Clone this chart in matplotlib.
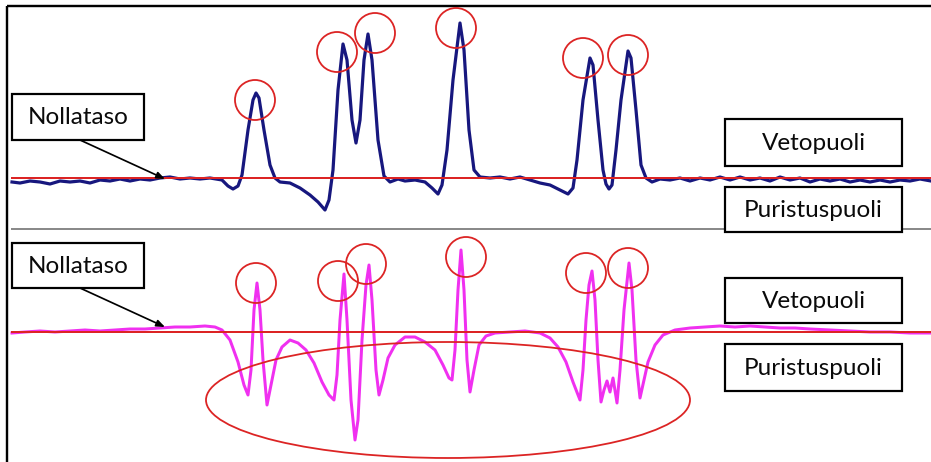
import matplotlib
matplotlib.use("Agg")
import matplotlib.pyplot as plt
from matplotlib.patches import Rectangle, Circle, Ellipse

W, H = 931, 462

# ---- data (x in samples, value = amplitude above zero level) ----
top_x = [12, 20, 30, 40, 50, 60, 70, 80, 90, 100, 110, 120, 130, 140, 150, 160, 170, 180, 190, 200,
         210, 222, 228, 233, 238, 242, 248, 253, 256, 259, 264, 270, 275, 280, 290, 300, 310, 318, 325,
         329, 333, 338, 343, 347, 352, 356, 360, 364, 368, 372, 378, 384, 390, 398, 405, 415, 425, 432,
         438, 442, 447, 453, 460, 464, 469, 474, 480, 490, 500, 510, 520, 530, 540, 550, 560, 568, 573,
         577, 583, 590, 593, 598, 603, 606, 609, 612, 616, 621, 628, 631, 636, 641, 646, 652, 660, 670,
         680, 690, 700, 710, 720, 730, 740, 750, 760, 770, 780, 790, 800, 810, 820, 830, 840, 850, 860,
         870, 880, 890, 900, 910, 920, 931]
top_v = [-4, -5, -3, -4, -6, -3, -4, -3, -5, -2, -3, -1, -3, -1, -2, 0, 1, -1, 0, -1,
         0, -2, -8, -11, -8, 3, 48, 78, 85, 80, 48, 13, 0, -4, -5, -10, -17, -24, -32,
         -22, 8, 88, 134, 118, 58, 35, 58, 118, 144, 118, 38, 2, -4, -1, -3, -2, -4, -10,
         -16, -7, 28, 98, 155, 128, 48, 8, 1, 0, 1, -1, 1, -2, -5, -7, -12, -16, -10,
         18, 78, 120, 113, 58, 8, -6, -11, -7, 28, 78, 127, 120, 68, 13, 0, -4, -1, -2,
         0, -3, 0, -2, 1, -2, 1, -2, 0, -3, 1, -2, 0, -4, -1, -3, -1, -4, -2,
         -4, -2, -4, -2, -3, -1, -3]

bot_x = [12, 25, 40, 55, 70, 85, 100, 115, 130, 145, 160, 175, 190, 205, 215, 222, 230, 238, 244, 248,
         251, 254, 257, 260, 263, 267, 271, 276, 282, 290, 298, 306, 314, 322, 329, 334, 337, 340, 344,
         347, 351, 355, 358, 362, 366, 369, 372, 376, 379, 383, 388, 395, 405, 415, 425, 435, 443, 449,
         452, 455, 458, 461, 464, 467, 470, 474, 479, 486, 495, 510, 525, 540, 550, 558, 566, 573, 580,
         583, 586, 589, 592, 595, 598, 601, 604, 607, 610, 613, 617, 620, 624, 629, 632, 636, 640, 644,
         648, 655, 663, 675, 690, 705, 720, 735, 750, 765, 780, 795, 810, 830, 850, 870, 890, 910, 931]
bot_v = [-1, 0, 1, 0, 1, 2, 1, 2, 3, 3, 4, 5, 5, 6, 5, 2, -8, -30, -53, -63,
         -38, 22, 49, 22, -28, -73, -53, -28, -15, -8, -11, -18, -31, -50, -63, -68, -43, 12, 58,
         12, -68, -108, -88, -8, 47, 67, 32, -38, -63, -48, -26, -13, -5, -5, -10, -18, -33, -46,
         -48, -18, 42, 82, 42, -28, -60, -38, -13, -4, -1, 0, 1, -1, -6, -15, -30, -50, -68,
         -38, 12, 47, 61, 32, -28, -70, -58, -49, -60, -46, -71, -38, 22, 69, 42, -28, -66, -48,
         -30, -13, -3, 2, 4, 5, 6, 5, 6, 5, 4, 4, 3, 2, 1, 0, 0, -1, -1]

RED = "#dc2424"
BLUE = "#17177e"
MAG = "#f030f0"
PX = 0.72  # points per pixel at dpi 100

fig = plt.figure(figsize=(W / 100, H / 100), dpi=100)
fig.patch.set_facecolor("white")

# top panel: pixel rows 0..229, zero level at row 178
ax1 = fig.add_axes([0, (H - 229) / H, 1, 229 / H])
ax1.set_xlim(0, W)
ax1.set_ylim(-(229 - 178), 178)
# bottom panel: pixel rows 229..462, zero level at row 332
ax2 = fig.add_axes([0, 0, 1, (H - 229) / H])
ax2.set_xlim(0, W)
ax2.set_ylim(-(H - 332), 332 - 229)
for a in (ax1, ax2):
    a.axis("off")

ax1.plot(top_x, top_v, color=BLUE, lw=3.2 * PX, solid_joinstyle="round", zorder=2)
ax1.plot([12, W], [0, 0], color=RED, lw=2.0 * PX, zorder=3)
ax2.plot(bot_x, bot_v, color=MAG, lw=3.0 * PX, solid_joinstyle="round", zorder=2)
ax2.plot([12, W], [0, 0], color=RED, lw=2.0 * PX, zorder=3)

# overlay in pixel coordinates for annotations
ov = fig.add_axes([0, 0, 1, 1], zorder=5)
ov.set_xlim(0, W)
ov.set_ylim(H, 0)
ov.axis("off")
ov.patch.set_alpha(0)

# frame
ov.plot([7, W], [6, 6], color="black", lw=2.4 * PX, solid_capstyle="butt")
ov.plot([7, 7], [6, H], color="black", lw=2.4 * PX, solid_capstyle="butt")
# separator
ov.plot([12, W], [229, 229], color="#8a8a8a", lw=2.0 * PX)

FONT = ["Lato", "DejaVu Sans"]

def box(x0, y0, x1, y1, text, fs=17.5):
    ov.add_patch(Rectangle((x0, y0), x1 - x0, y1 - y0, facecolor="white",
                           edgecolor="black", lw=2.2 * PX, zorder=6))
    ov.text((x0 + x1) / 2, (y0 + y1) / 2 + 1, text, ha="center", va="center",
            fontsize=fs, family=FONT, color="#0a0a0a", zorder=7)

def arrow(x0, y0, x1, y1):
    ov.annotate("", xy=(x1, y1), xytext=(x0, y0),
                arrowprops=dict(arrowstyle="-|>,head_length=0.5,head_width=0.2",
                                color="black", lw=1.7 * PX, shrinkA=0, shrinkB=0), zorder=7)

# top panel boxes
box(12, 94, 144, 140, "Nollataso")
arrow(80, 140, 165, 179)
box(725, 119, 902, 166, "Vetopuoli")
box(725, 187, 902, 232, "Puristuspuoli")
# bottom panel boxes
box(12, 243, 144, 288, "Nollataso")
arrow(80, 288, 165, 327)
box(725, 278, 902, 323, "Vetopuoli")
box(725, 344, 902, 391, "Puristuspuoli")

# circles around peaks
top_circles = [(255, 100), (337, 52), (375, 33), (456, 28), (583, 58), (628, 55)]
bot_circles = [(256, 283), (338, 281), (366, 264), (466, 257), (586, 273), (628, 268)]
for (cx, cy) in top_circles + bot_circles:
    ov.add_patch(Circle((cx, cy), 20, fill=False, edgecolor=RED, lw=1.8 * PX, zorder=6))

ov.add_patch(Ellipse((448, 400), 484, 116, fill=False, edgecolor=RED, lw=1.8 * PX, zorder=6))

fig.savefig("out.png", dpi=100, facecolor="white")
